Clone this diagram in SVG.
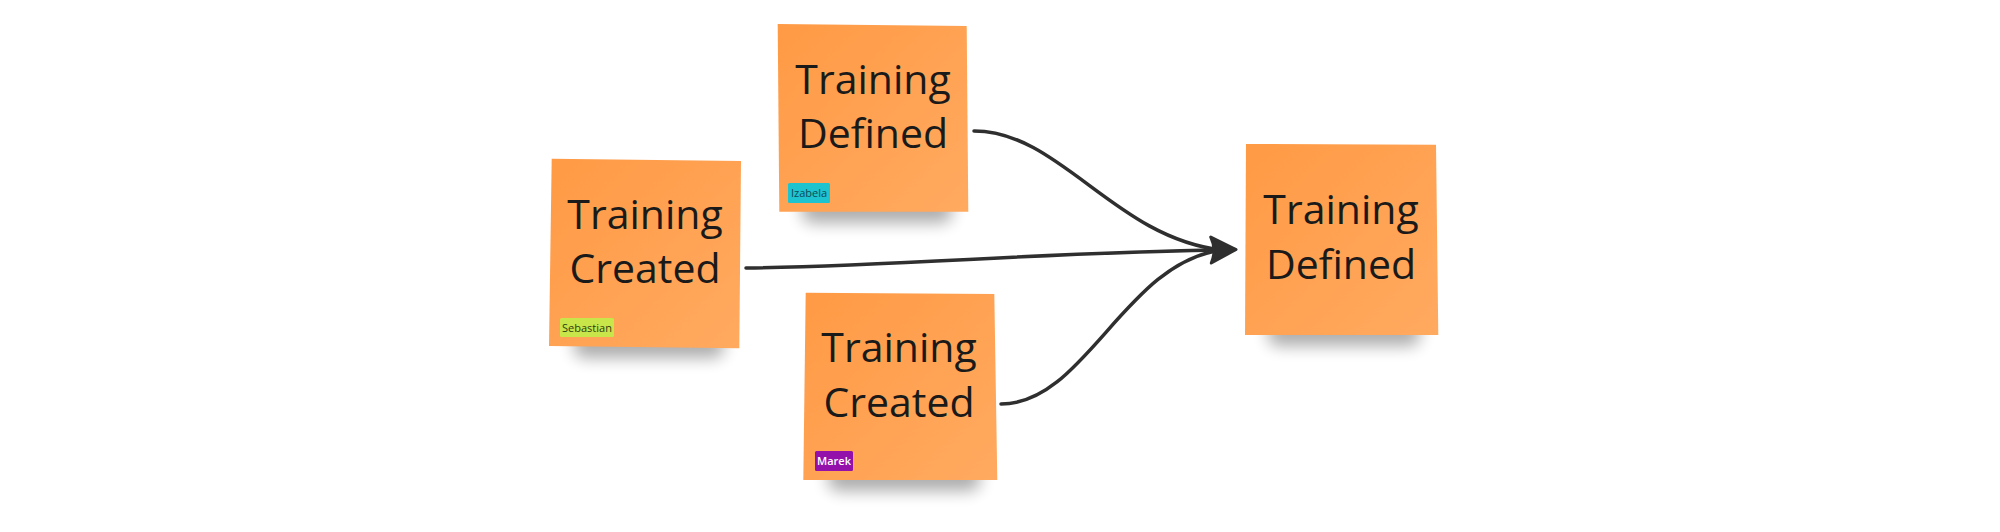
<svg xmlns="http://www.w3.org/2000/svg" width="2000" height="532" viewBox="0 0 2000 532">
  <defs>
    <linearGradient id="sticky" x1="0" y1="0" x2="1" y2="1">
      <stop offset="0" stop-color="#FF9A45"/>
      <stop offset="1" stop-color="#FFAA60"/>
    </linearGradient>
    <filter id="blur" x="-30%" y="-80%" width="160%" height="260%">
      <feGaussianBlur stdDeviation="8"/>
    </filter>
    <marker id="arrow" viewBox="0 0 34 34" refX="30" refY="17" markerWidth="34" markerHeight="34" markerUnits="userSpaceOnUse" orient="auto">
      <path d="M6,4 L31,17 L6,30 Q12,17 6,4 Z" fill="#2f2f2f" stroke="#2f2f2f" stroke-width="3" stroke-linejoin="round"/>
    </marker>
    <style>
      .note { fill: url(#sticky); }
      .shadow { fill: #000; opacity: 0.32; filter: url(#blur); }
      .label { font-family: "Open Sans", "Noto Sans", "Liberation Sans", sans-serif; font-size: 41px; fill: #1a1a1a; text-anchor: middle; }
      .tagtext { font-family: "Open Sans", "Noto Sans", "Liberation Sans", sans-serif; font-size: 11px; text-anchor: middle; }
      .conn { fill: none; stroke: #2f2f2f; stroke-width: 3.5; stroke-linecap: round; }
    </style>
  </defs>
  <rect width="2000" height="532" fill="#ffffff"/>

  <g id="connectors">
    <path class="conn" d="M974,131 C1060,131 1115,238 1222,250" />
    <path class="conn" d="M746,268 C900,266 1050,252 1222,250" />
    <path class="conn" d="M1001,404 C1085,404 1125,262 1222,250" />
    <path class="conn" d="M1210,250 L1235,249.5" marker-end="url(#arrow)"/>
  </g>

  <g id="node-sebastian">
    <rect class="shadow" x="574" y="330" width="150" height="28" rx="10"/>
    <polygon class="note" points="551.7,158.7 741,161 739.3,348.3 549,346"/>
    <text class="label" x="645" y="229">Training</text>
    <text class="label" x="645" y="283">Created</text>
    <rect x="560" y="318" width="54" height="19" rx="1.5" fill="#C8E64A"/>
    <text class="tagtext" x="587" y="331.5" fill="#2f3a10">Sebastian</text>
  </g>

  <g id="node-izabela">
    <rect class="shadow" x="802" y="195" width="150" height="28" rx="10"/>
    <polygon class="note" points="777.7,24 966.7,26 968.3,211.7 779.3,211.7"/>
    <text class="label" x="873" y="94">Training</text>
    <text class="label" x="873" y="148">Defined</text>
    <rect x="788" y="183" width="42" height="20" rx="1.5" fill="#1DC4D0"/>
    <text class="tagtext" x="809" y="197" fill="#0d4a55">Izabela</text>
  </g>

  <g id="node-marek">
    <rect class="shadow" x="828" y="463" width="152" height="28" rx="10"/>
    <polygon class="note" points="805.7,292.7 994.3,294 997.3,480 803.3,480"/>
    <text class="label" x="899" y="362">Training</text>
    <text class="label" x="899" y="417">Created</text>
    <rect x="815" y="451" width="38" height="20" rx="1.5" fill="#9310AB"/>
    <text class="tagtext" x="834" y="465" fill="#ffffff" font-weight="600">Marek</text>
  </g>

  <g id="node-target">
    <rect class="shadow" x="1268" y="318" width="152" height="28" rx="10"/>
    <polygon class="note" points="1246,144 1436,144.7 1438.3,335 1245,335"/>
    <text class="label" x="1341" y="224">Training</text>
    <text class="label" x="1341" y="279">Defined</text>
  </g>
</svg>
